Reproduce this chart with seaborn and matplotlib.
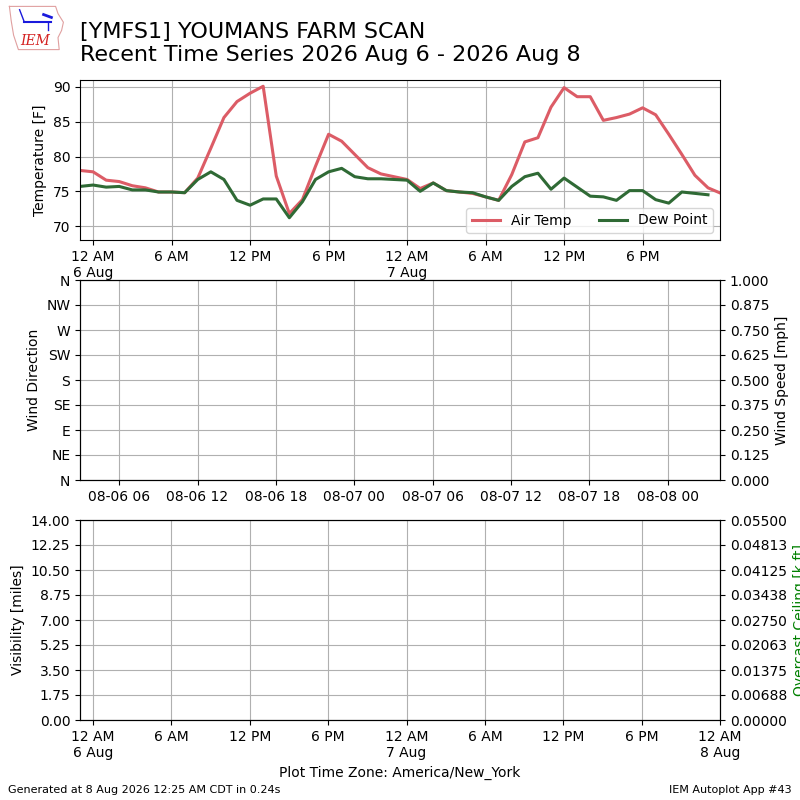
import numpy as np
import pandas as pd
import matplotlib
matplotlib.use("Agg")
import matplotlib.pyplot as plt
import seaborn as sns

# ---------------- data ----------------
start_time = "2026-08-05 23:00"
air_temp = [78.0, 77.8, 76.6, 76.4, 75.8, 75.5, 74.9, 74.9, 74.8, 76.9,
            81.2, 85.6, 87.9, 89.1, 90.1, 77.2, 71.8, 73.8, 78.6, 83.2,
            82.2, 80.3, 78.4, 77.5, 77.1, 76.7, 75.4, 76.2, 75.1, 74.9,
            74.7, 74.2, 73.7, 77.4, 82.1, 82.7, 87.1, 89.9, 88.6, 88.6,
            85.2, 85.6, 86.1, 87.0, 86.0, 83.2, 80.3, 77.3, 75.5, 74.7]
dew_point = [75.7, 75.9, 75.6, 75.7, 75.2, 75.2, 74.9, 74.9, 74.8, 76.7,
             77.8, 76.7, 73.7, 73.0, 73.9, 73.9, 71.2, 73.5, 76.7, 77.8,
             78.3, 77.1, 76.8, 76.8, 76.7, 76.6, 75.0, 76.2, 75.1, 74.9,
             74.8, 74.2, 73.7, 75.7, 77.1, 77.6, 75.3, 76.9, 75.6, 74.3,
             74.2, 73.7, 75.1, 75.1, 73.8, 73.3, 74.9, 74.7, 74.5, np.nan]

local_tick_labels = ["12 AM\n6 Aug", "6 AM", "12 PM", "6 PM", "12 AM\n7 Aug",
                     "6 AM", "12 PM", "6 PM", "12 AM\n8 Aug"]
utc_tick_labels = ["08-06 06", "08-06 12", "08-06 18", "08-07 00",
                   "08-07 06", "08-07 12", "08-07 18", "08-08 00"]
wind_dir_labels = ["N", "NE", "E", "SE", "S", "SW", "W", "NW", "N"]
ceiling_labels = ["0.00000", "0.00688", "0.01375", "0.02063", "0.02750",
                  "0.03438", "0.04125", "0.04813", "0.05500"]

times = pd.date_range(start_time, periods=len(air_temp), freq="h")
df = pd.DataFrame({"time": times, "Air Temp": air_temp, "Dew Point": dew_point})

# ---------------- figure ----------------
fig = plt.figure(figsize=(8, 8), dpi=100)
plt.rcParams["font.family"] = ["DejaVu Sans"]

t0 = pd.Timestamp("2026-08-05 23:00")
t1 = pd.Timestamp("2026-08-08 00:00")
local_ticks = pd.date_range("2026-08-06 00:00", periods=9, freq="6h")
utc_ticks = pd.date_range("2026-08-06 02:00", periods=8, freq="6h")

grid_kw = dict(color="#b0b0b0", linewidth=0.8)

# Top panel: temperature
ax1 = fig.add_axes([0.1, 0.7, 0.8, 0.2])
sns.lineplot(data=df, x="time", y="Air Temp", ax=ax1, color="#dc5c66",
             linewidth=2.2, label="Air Temp")
sns.lineplot(data=df, x="time", y="Dew Point", ax=ax1, color="#2f6a35",
             linewidth=2.2, label="Dew Point")
ax1.set_xlim(t0, t1 - pd.Timedelta(minutes=5))
ax1.set_ylim(68, 91)
ax1.set_yticks([70, 75, 80, 85, 90])
ax1.set_xticks(local_ticks[:8])
ax1.set_xticklabels(local_tick_labels[:8], ha="center")
ax1.set_xlabel("")
ax1.set_ylabel("Temperature [F]")
ax1.grid(True, **grid_kw)
ax1.legend(loc="lower right", ncol=2, fontsize=10)

# Middle panel: wind
ax2 = fig.add_axes([0.1, 0.4, 0.8, 0.25])
ax2.set_xlim(t0, t1)
ax2.set_ylim(0, 360)
ax2.set_yticks(np.arange(0, 361, 45))
ax2.set_yticklabels(wind_dir_labels)
ax2.set_xticks(utc_ticks)
ax2.set_xticklabels(utc_tick_labels)
ax2.set_ylabel("Wind Direction")
ax2.grid(True, **grid_kw)
ax2b = ax2.twinx()
ax2b.set_ylim(0, 1)
ax2b.set_yticks(np.linspace(0, 1, 9))
ax2b.set_yticklabels([f"{v:.3f}" for v in np.linspace(0, 1, 9)])
ax2b.set_ylabel("Wind Speed [mph]")

# Bottom panel: visibility / ceiling
ax3 = fig.add_axes([0.1, 0.1, 0.8, 0.25])
ax3.set_xlim(t0, t1)
ax3.set_ylim(0, 14)
vis_ticks = np.linspace(0, 14, 9)
ax3.set_yticks(vis_ticks)
ax3.set_yticklabels([f"{v:.2f}" for v in vis_ticks])
ax3.set_xticks(local_ticks)
ax3.set_xticklabels(local_tick_labels, ha="center")
ax3.set_ylabel("Visibility [miles]")
ax3.set_xlabel("Plot Time Zone: America/New_York")
ax3.grid(True, **grid_kw)
ax3b = ax3.twinx()
ax3b.set_ylim(0, 0.055)
ax3b.set_yticks(np.linspace(0, 0.055, 9))
ax3b.set_yticklabels(ceiling_labels)
ax3b.set_ylabel("Overcast Ceiling [k ft]", color="green")

# Title and footer
fig.text(0.1, 0.946, "[YMFS1] YOUMANS FARM SCAN\nRecent Time Series 2026 Aug 6 - 2026 Aug 8",
         fontsize=16, va="center", ha="left", linespacing=1.2)
fig.text(0.01, 0.006, "Generated at 8 Aug 2026 12:25 AM CDT in 0.24s",
         fontsize=8, va="bottom", ha="left")
fig.text(0.989, 0.006, "IEM Autoplot App #43", fontsize=8, va="bottom", ha="right")

# Logo
lax = fig.add_axes([0.008, 0.935, 0.075, 0.06])
lax.set_xlim(0, 1)
lax.set_ylim(0, 1)
lax.axis("off")
outline_x = [0.05, 0.82, 0.86, 0.95, 0.92, 0.86, 0.88, 0.20, 0.12, 0.08, 0.05]
outline_y = [0.95, 0.95, 0.80, 0.62, 0.45, 0.30, 0.05, 0.05, 0.35, 0.65, 0.95]
lax.plot(outline_x, outline_y, color="#e0a0a0", linewidth=0.8)
lax.plot([0.3, 0.75], [0.62, 0.62], color="#1a1adc", linewidth=1.5)
lax.plot([0.3, 0.22], [0.62, 0.88], color="#1a1adc", linewidth=1.0)
lax.plot([0.62, 0.75], [0.78, 0.72], color="#1a1adc", linewidth=2.0)
lax.plot([0.7, 0.7], [0.62, 0.45], color="#1a1adc", linewidth=1.0)
lax.text(0.48, 0.22, "IEM", color="#d42020", fontsize=10, fontstyle="italic",
         family="DejaVu Serif", ha="center", va="center")

fig.savefig("out.png", dpi=100)
